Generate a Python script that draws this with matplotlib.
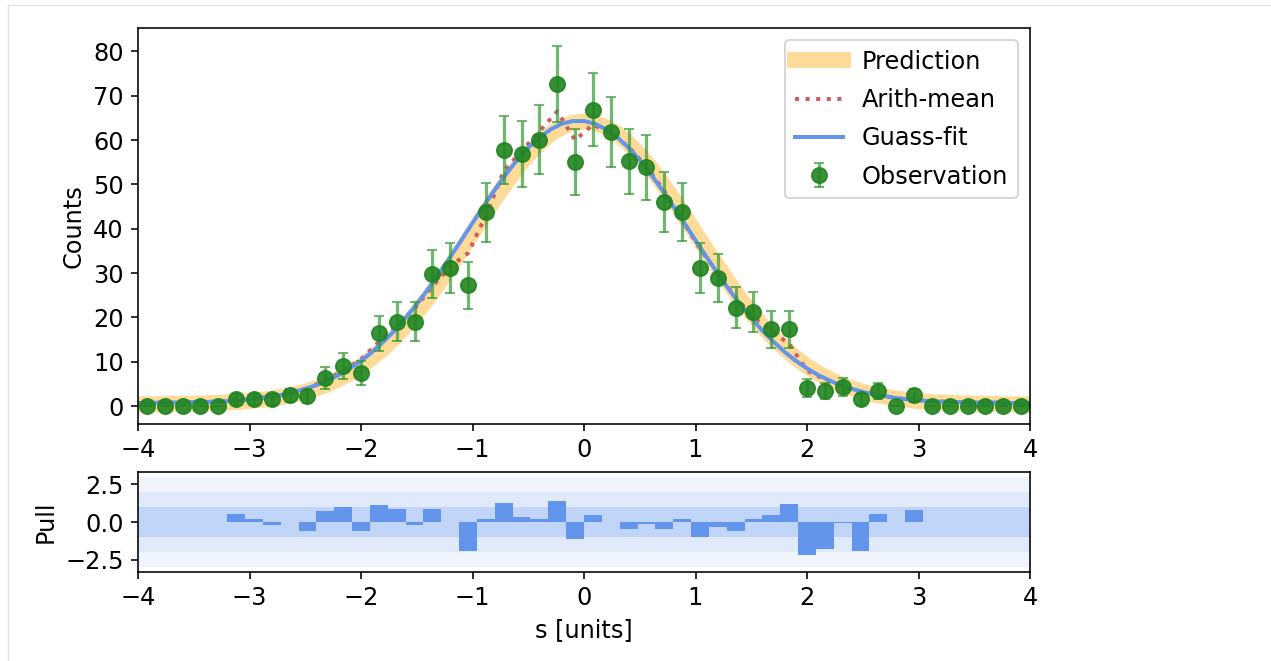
import numpy as np
import matplotlib
matplotlib.use('Agg')
import matplotlib.pyplot as plt
from matplotlib.lines import Line2D

# binning: 50 bins from -4 to 4
bin_edges = np.linspace(-4, 4, 51)
bin_centers = 0.5 * (bin_edges[1:] + bin_edges[:-1])
bin_width = bin_edges[1] - bin_edges[0]

obs = [0, 0, 0, 0, 0, 1.5, 1.5, 1.5, 2.4, 2.3,
       6.4, 9.0, 7.4, 16.4, 19.0, 19.0, 29.8, 31.2, 27.2, 43.7,
       57.8, 56.9, 60.1, 72.7, 55.0, 66.9, 61.8, 55.2, 53.9, 46.0,
       43.8, 31.2, 28.9, 22.2, 21.2, 17.3, 17.3, 4.1, 3.4, 4.3,
       1.5, 3.4, 0, 2.4, 0, 0, 0, 0, 0, 0]
obs_err = [0, 0, 0, 0, 0, 1.2, 1.2, 1.2, 1.5, 1.5,
           2.5, 3.0, 2.7, 4.0, 4.4, 4.4, 5.5, 5.6, 5.2, 6.6,
           7.6, 7.5, 7.8, 8.5, 7.4, 8.2, 7.9, 7.4, 7.3, 6.8,
           6.6, 5.6, 5.4, 4.7, 4.6, 4.2, 4.2, 2.0, 1.8, 2.1,
           1.2, 1.8, 0, 1.5, 0, 0, 0, 0, 0, 0]

# arithmetic mean per bin
arith_mean = [0.7, 0.8, 0.8, 0.9, 1.0, 1.3, 1.6, 2.2, 2.9, 4.0,
              5.8, 8.0, 10.5, 14.5, 18.0, 22.0, 27.0, 31.5, 34.5, 43.0,
              53.0, 57.5, 62.0, 66.5, 60.0, 63.5, 61.5, 58.5, 54.0, 48.5,
              42.0, 35.5, 30.0, 24.5, 20.0, 17.0, 14.0, 8.0, 6.0, 4.5,
              3.2, 2.5, 1.8, 1.4, 1.1, 0.9, 0.8, 0.8, 0.7, 0.7]

# smooth curves, sampled every 0.1 from -4 to 4
curve_x = np.linspace(-4, 4, 81)
prediction = [0.4, 0.4, 0.4, 0.5, 0.5, 0.5, 0.6, 0.7, 0.8, 0.9,
              1.1, 1.4, 1.7, 2.1, 2.6, 3.2, 4.0, 4.9, 6.1, 7.4,
              9.0, 10.9, 13.0, 15.4, 18.1, 21.1, 24.3, 27.8, 31.5, 35.2,
              39.1, 43.0, 46.7, 50.3, 53.7, 56.7, 59.3, 61.4, 62.9, 63.9,
              64.2,
              63.9, 62.9, 61.4, 59.3, 56.7, 53.7, 50.3, 46.7, 43.0, 39.1,
              35.2, 31.5, 27.8, 24.3, 21.1, 18.1, 15.4, 13.0, 10.9, 9.0,
              7.4, 6.1, 4.9, 4.0, 3.2, 2.6, 2.1, 1.7, 1.4, 1.1,
              0.9, 0.8, 0.7, 0.6, 0.5, 0.5, 0.5, 0.4, 0.4, 0.4]
gauss_fit = [0.7, 0.7, 0.8, 0.8, 0.8, 0.9, 0.9, 1.0, 1.1, 1.3,
             1.5, 1.8, 2.2, 2.6, 3.2, 3.9, 4.7, 5.8, 7.0, 8.5,
             10.2, 12.2, 14.5, 17.0, 19.9, 23.0, 26.3, 29.9, 33.6, 37.4,
             41.3, 45.1, 48.8, 52.3, 55.5, 58.3, 60.6, 62.4, 63.7, 64.3,
             64.3, 63.7, 62.4, 60.6, 58.3, 55.5, 52.3, 48.8, 45.1, 41.3,
             37.4, 33.6, 29.9, 26.3, 23.0, 19.9, 17.0, 14.5, 12.2, 10.2,
             8.5, 7.0, 5.8, 4.7, 3.9, 3.2, 2.6, 2.2, 1.8, 1.5,
             1.3, 1.1, 1.0, 0.9, 0.9, 0.8, 0.8, 0.8, 0.7, 0.7,
             0.7]

# pull per bin (nan = empty bin)
nan = np.nan
pull = [nan, nan, nan, nan, nan, 0.55, 0.2, -0.2, 0.0, -0.6,
        0.7, 0.97, -0.6, 1.1, 0.86, -0.2, 0.84, 0.0, -1.92, 0.2,
        1.24, 0.33, 0.2, 1.39, -1.1, 0.44, 0.0, -0.46, -0.1, -0.46,
        0.2, -0.97, -0.33, -0.6, 0.2, 0.44, 1.21, -2.16, -1.77, -0.05,
        -1.9, 0.53, nan, 0.82, nan, nan, nan, nan, nan, nan]

plt.rcParams['font.size'] = 12

W, H, dpi = 1271, 661, 144
fig = plt.figure(figsize=(W / dpi, H / dpi), dpi=dpi)
ax = fig.add_axes([138 / W, (H - 424) / H, 892 / W, 396 / H])
ax_pull = fig.add_axes([138 / W, (H - 572) / H, 892 / W, 100 / H])

# faint frame of the output cell (top and left edge)
fig.add_artist(Line2D([8 / W, 1], [1 - 5 / H, 1 - 5 / H], color='#e4e4e4', lw=0.7))
fig.add_artist(Line2D([8 / W, 8 / W], [0, 1 - 5 / H], color='#e4e4e4', lw=0.7))

# main panel
ax.plot(curve_x, prediction, color='orange', alpha=0.4, lw=8, label='Prediction')
ax.plot(bin_centers, arith_mean, color='indianred', ls=':', lw=2, label='Arith-mean')
ax.plot(curve_x, gauss_fit, color='cornflowerblue', lw=2, label='Guass-fit')
ax.errorbar(bin_centers, obs, yerr=obs_err, fmt='o', ms=7.5,
            mfc=(0.13, 0.52, 0.13, 0.9), mec=(0.13, 0.52, 0.13, 0.9),
            ecolor=(0.2, 0.6, 0.2, 0.7), elinewidth=1.6, capsize=2.5,
            label='Observation')
ax.set_xlim(-4, 4)
ax.set_ylim(-4.05, 85.3)
ax.set_yticks(np.arange(0, 90, 10))
ax.set_ylabel('Counts')
ax.legend(loc='upper right', labelspacing=0.6)

# pull panel
ax_pull.axhspan(-3, 3, color='#f0f4fd', lw=0)
ax_pull.axhspan(-2, 2, color='#e0eafb', lw=0)
ax_pull.axhspan(-1, 1, color='#c1d5f8', lw=0)
ax_pull.bar(bin_centers, pull, width=bin_width, color='cornflowerblue')
ax_pull.set_xlim(-4, 4)
ax_pull.set_ylim(-3.3, 3.3)
ax_pull.set_yticks([-2.5, 0, 2.5])
ax_pull.set_ylabel('Pull')
ax_pull.set_xlabel('s [units]')

fig.savefig('out.png', dpi=dpi)
